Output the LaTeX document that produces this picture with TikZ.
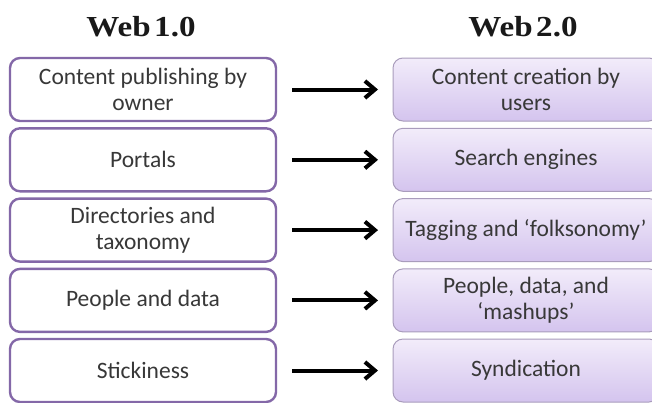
\documentclass[tikz,border=0pt]{standalone}
\usepackage{fontspec}
\setmainfont{Carlito}
\newfontfamily\titlefont[FakeStretch=1.14]{Liberation Serif}
\usetikzlibrary{arrows.meta}
\definecolor{leftborder}{HTML}{8468A8}
\definecolor{rightborder}{HTML}{A99CBC}
\definecolor{rtop}{HTML}{F2ECFA}
\definecolor{rbot}{HTML}{D4C4EE}
\definecolor{bodytext}{HTML}{383838}
\tikzset{
  oldbox/.style={draw=leftborder, line width=2.4pt, fill=white, rounded corners=10pt,
    minimum width=266pt, minimum height=63pt, inner sep=0pt,
    align=center, text=bodytext, font=\fontsize{23.5}{25.5}\selectfont},
  newbox/.style={draw=rightborder, line width=1pt, top color=rtop, bottom color=rbot, rounded corners=10pt,
    minimum width=266pt, minimum height=63pt, inner sep=0pt,
    align=center, text=bodytext, font=\fontsize{23.5}{25.5}\selectfont},
  heading/.style={font=\titlefont\bfseries\fontsize{29}{32}\selectfont, text=black!90, inner sep=0pt},
  conn/.style={line width=4pt, -{Straight Barb[length=10pt,width=17pt]}}
}
\begin{document}
\begin{tikzpicture}[x=1pt,y=-1pt]
\useasboundingbox (0,0) rectangle (652,402);
\fill[white] (0,0) rectangle (652,402);
\node[heading] (h1) at (141,27) {Web\kern0.12em 1.0};
\node[heading] (h2) at (523,27) {Web\kern0.12em 2.0};
\foreach \i/\y/\lt/\rt in {
  1/89.5/{Content publishing by\\owner}/{Content creation by\\users},
  2/159.8/{Portals}/{Search engines},
  3/230.1/{Directories and\\taxonomy}/{Tagging and ‘folksonomy’},
  4/300.4/{People and data}/{People, data, and\\‘mashups’},
  5/370.5/{Stickiness}/{Syndication}}{
  \node[oldbox] (l\i) at (143,\y) {\lt};
  \node[newbox] (r\i) at (526,\y) {\rt};
  \coordinate (s\i) at (292,\y);
  \coordinate (e\i) at (378,\y);
  \draw[conn] (s\i) -- (e\i);
}
\end{tikzpicture}
\end{document}
